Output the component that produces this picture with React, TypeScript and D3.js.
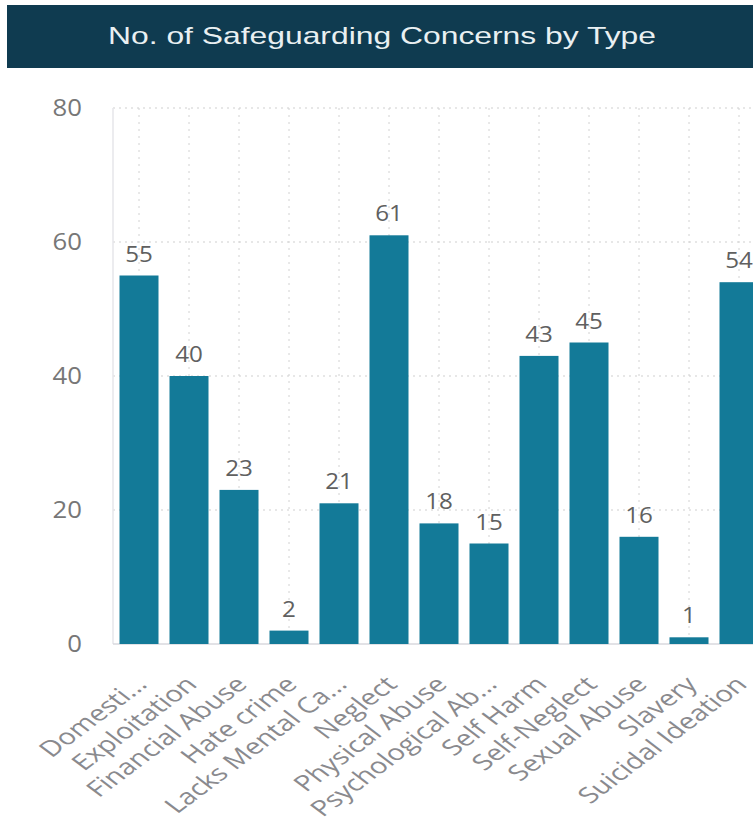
import React from "react";
import * as d3 from "d3";

const categories = [
  "Domesti...",
  "Exploitation",
  "Financial Abuse",
  "Hate crime",
  "Lacks Mental Ca...",
  "Neglect",
  "Physical Abuse",
  "Psychological Ab...",
  "Self Harm",
  "Self-Neglect",
  "Sexual Abuse",
  "Slavery",
  "Suicidal Ideation",
];
const values = [55, 40, 23, 2, 21, 61, 18, 15, 43, 45, 16, 1, 54];
const yTicks = [0, 20, 40, 60, 80];
const title = "No. of Safeguarding Concerns by Type";

const W = 753;
const H = 823;

export default function App() {
  const x = d3
    .scaleBand<string>()
    .domain(categories)
    .range([114, 114 + 50 * categories.length])
    .paddingInner(0.22)
    .paddingOuter(0.11);
  const y = d3.scaleLinear().domain([0, 80]).range([644, 108]);
  const bw = x.bandwidth();

  return (
    <svg
      width={W}
      height={H}
      style={{ position: "absolute", left: 0, top: 0, background: "#fff" }}
    >
      <rect x={7} y={5} width={W - 7} height={63} fill="#0f3b50" />
      <text
        x={382}
        y={44}
        textAnchor="middle"
        fill="#e9f0f2"
        fontFamily="Liberation Sans, Arial, sans-serif"
        fontSize={24}
        textLength={548}
        lengthAdjust="spacingAndGlyphs"
      >
        {title}
      </text>

      {/* horizontal grid */}
      {yTicks
        .filter((t) => t > 0)
        .map((t) => (
          <line
            key={"h" + t}
            x1={113}
            x2={W}
            y1={y(t)}
            y2={y(t)}
            stroke="#cfcfcf"
            strokeDasharray="2,4"
          />
        ))}
      {/* vertical grid */}
      {categories.map((c) => (
        <line
          key={"v" + c}
          x1={(x(c) as number) + bw / 2}
          x2={(x(c) as number) + bw / 2}
          y1={y(80)}
          y2={y(0)}
          stroke="#d2d2d2"
          strokeDasharray="2,5"
        />
      ))}
      {/* axes */}
      <line x1={113} x2={113} y1={y(80)} y2={y(0)} stroke="#e6e6ea" strokeWidth={1.5} />
      <line x1={113} x2={W} y1={y(0)} y2={y(0)} stroke="#d8d8de" strokeWidth={1.5} />

      {yTicks.map((t) => (
        <text
          key={"yt" + t}
          transform={`translate(82,${y(t)}) scale(1.12,1)`}
          dy="0.36em"
          textAnchor="end"
          fill="#777"
          fontFamily="Open Sans, sans-serif"
          fontSize={23}
        >
          {t}
        </text>
      ))}

      {categories.map((c, i) => (
        <rect
          key={"b" + c}
          x={x(c)}
          y={y(values[i])}
          width={bw}
          height={y(0) - y(values[i])}
          fill="#137a98"
        />
      ))}
      {categories.map((c, i) => (
        <text
          key={"l" + c}
          transform={`translate(${(x(c) as number) + bw / 2},${y(values[i]) - 14}) scale(1.1,1)`}
          textAnchor="middle"
          fill="#606060"
          fontFamily="Open Sans, sans-serif"
          fontSize={22}
        >
          {values[i]}
        </text>
      ))}
      {categories.map((c) => {
        const cx = (x(c) as number) + bw / 2;
        return (
          <text
            key={"x" + c}
            transform={`translate(${cx - 6},${674}) scale(1.33,1) rotate(-45)`}
            textAnchor="end"
            dy="0.75em"
            fill="#8a8a8e"
            fontFamily="Open Sans, sans-serif"
            fontSize={22}
          >
            {c}
          </text>
        );
      })}
    </svg>
  );
}
